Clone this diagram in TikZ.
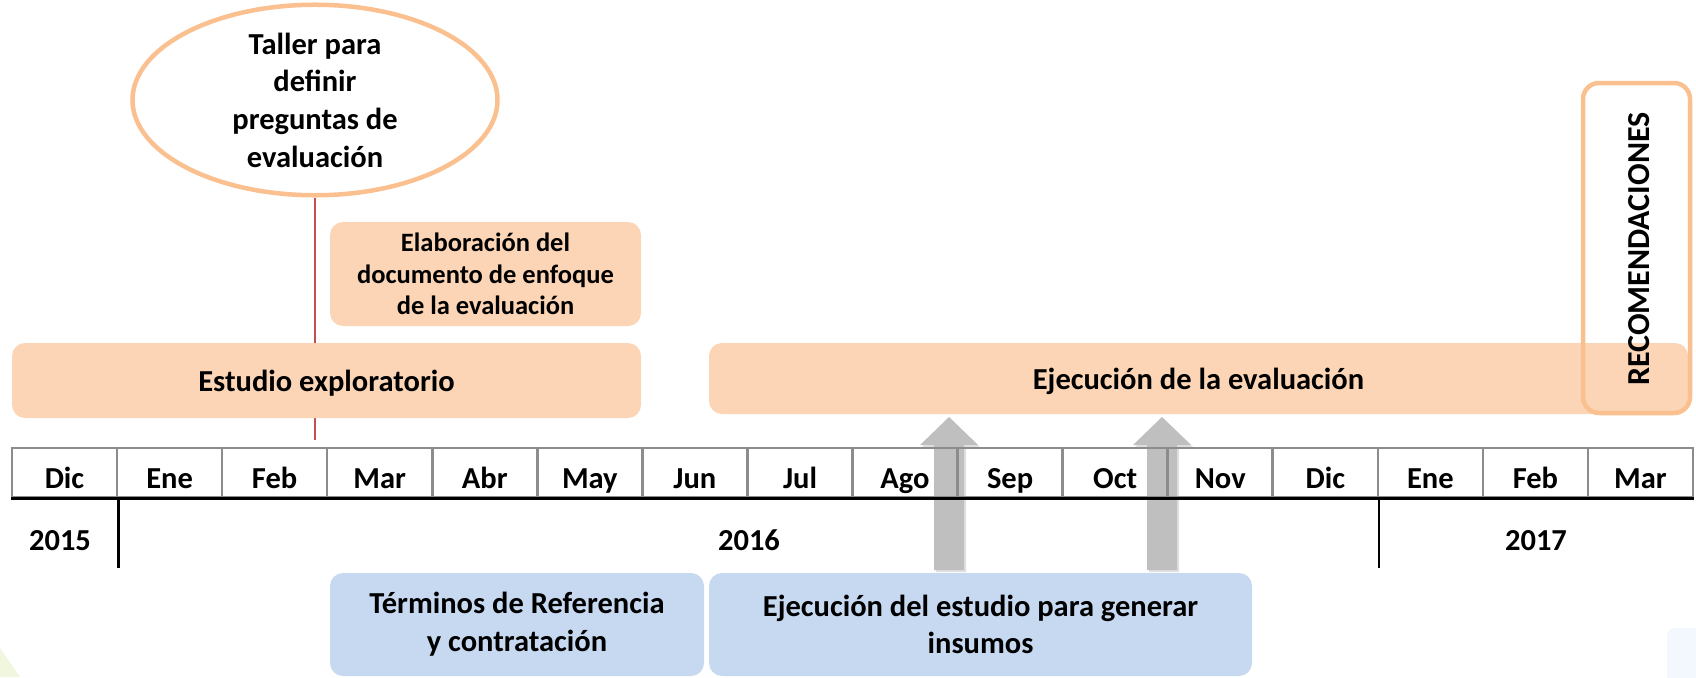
\documentclass[tikz,border=0pt]{standalone}
\usepackage{fontspec}
\setmainfont{Carlito}
\usepackage{tikz}
\usetikzlibrary{shapes.geometric}

\definecolor{peach}{HTML}{FBD5B5}
\definecolor{peachline}{HTML}{FAC090}
\definecolor{paleblue}{HTML}{C6D9F1}
\definecolor{arrowgray}{HTML}{BFBFBF}
\definecolor{cellgray}{HTML}{8C8C8C}
\definecolor{stemred}{HTML}{C0504D}
\definecolor{fadegreen}{HTML}{F1F6DE}
\definecolor{fadeblue}{HTML}{F2F8FD}

\begin{document}
\begin{tikzpicture}[x=1pt, y=-1pt,
    every node/.style={font=\bfseries\fontsize{30.5}{37.7}\selectfont, text=black, inner sep=0pt},
    peachbox/.style={fill=peach, rounded corners=13pt, align=center},
    bluebox/.style={fill=paleblue, rounded corners=13pt, align=center},
    onerow/.style={text height=21pt, text depth=0pt},
    monthcell/.style={draw=cellgray, line width=2.5pt, minimum width=105.06pt, minimum height=49pt, text height=31pt, text depth=0pt},
    yearline/.style={black, line width=2.5pt},
    arrowshadow/.style={black, opacity=0.12},
    blockarrow/.style={fill=arrowgray}]
        \useasboundingbox (0,0) rectangle (1696,677);

        \fill[fadegreen] (0,648) -- (20,677) -- (0,677) -- cycle;
        \fill[fadeblue, rounded corners=8pt] (1667,628) rectangle (1710,690);

        \node[ellipse, draw=peachline, line width=4.5pt, fill=white, align=center,
              minimum width=365pt, minimum height=184pt] (taller) at (315,100)
              {Taller para\\definir\\preguntas de\\evaluación};
        \coordinate (stemend) at (315,440);
        \draw[stemred, line width=2pt] (taller.south) -- (stemend);

        \node[peachbox, minimum width=311pt, minimum height=104pt,
              font=\bfseries\fontsize{26.5}{31.7}\selectfont] (enfoque) at (485.5,274)
              {Elaboración del\\documento de enfoque\\de la evaluación};
        \node[peachbox, onerow, minimum width=629pt, minimum height=75pt] (explora) at (326.5,380.5) {Estudio exploratorio};
        \node[peachbox, onerow, minimum width=979pt, minimum height=71pt] (ejeval) at (1198.5,378.5) {Ejecución de la evaluación};

        \node[bluebox, minimum width=374pt, minimum height=103pt] (terminos) at (517,624.5)
              {Términos de Referencia\\y contratación};
        \node[bluebox, minimum width=543pt, minimum height=103pt] (ejestudio) at (980.5,624.5)
              {Ejecución del estudio para generar\\insumos};

        \coordinate (upa) at (949,570);
        \coordinate (upb) at (1162,570);
        \fill[arrowshadow] ([shift={(2,2)}]upa) ++(-15,0) -- ++(0,-125) -- ++(-14,0) -- ++(29,-28) -- ++(29,28) -- ++(-14,0) -- ++(0,125) -- cycle;
        \fill[arrowshadow] ([shift={(2,2)}]upb) ++(-15,0) -- ++(0,-125) -- ++(-14,0) -- ++(29,-28) -- ++(29,28) -- ++(-14,0) -- ++(0,125) -- cycle;
        \fill[blockarrow] (upa) ++(-15,0) -- ++(0,-125) -- ++(-14,0) -- ++(29,-28) -- ++(29,28) -- ++(-14,0) -- ++(0,125) -- cycle;
        \fill[blockarrow] (upb) ++(-15,0) -- ++(0,-125) -- ++(-14,0) -- ++(29,-28) -- ++(29,28) -- ++(-14,0) -- ++(0,125) -- cycle;

        \node[monthcell] (m1) at (64.5,472.5) {Dic};
        \node[monthcell] (m2) at (169.6,472.5) {Ene};
        \node[monthcell] (m3) at (274.6,472.5) {Feb};
        \node[monthcell] (m4) at (379.7,472.5) {Mar};
        \node[monthcell] (m5) at (484.8,472.5) {Abr};
        \node[monthcell] (m6) at (589.8,472.5) {May};
        \node[monthcell] (m7) at (694.9,472.5) {Jun};
        \node[monthcell] (m8) at (800,472.5) {Jul};
        \node[monthcell] (m9) at (905,472.5) {Ago};
        \node[monthcell] (m10) at (1010.1,472.5) {Sep};
        \node[monthcell] (m11) at (1115.1,472.5) {Oct};
        \node[monthcell] (m12) at (1220.2,472.5) {Nov};
        \node[monthcell] (m13) at (1325.3,472.5) {Dic};
        \node[monthcell] (m14) at (1430.3,472.5) {Ene};
        \node[monthcell] (m15) at (1535.4,472.5) {Feb};
        \node[monthcell] (m16) at (1640.5,472.5) {Mar};

        \draw[yearline] (m1.south west) -- (m16.south east);
        \coordinate (cut1) at (m1.south east |- 0,568);
        \coordinate (cut2) at (m13.south east |- 0,568);
        \draw[yearline] (m1.south east) -- (cut1);
        \draw[yearline] (m13.south east) -- (cut2);

        \node[anchor=base] (y2015) at (60,550) {2015};
        \node[anchor=base] (y2016) at (749,550) {2016};
        \node[anchor=base] (y2017) at (1536,550) {2017};

        \node[draw=peachline, line width=4.5pt, rounded corners=16pt,
              minimum width=107pt, minimum height=330pt] (recobox) at (1636.5,248) {};
        \node[rotate=90, font=\bfseries\fontsize{32}{38}\selectfont] (reco) at (1639,249) {RECOMENDACIONES};
\end{tikzpicture}
\end{document}
